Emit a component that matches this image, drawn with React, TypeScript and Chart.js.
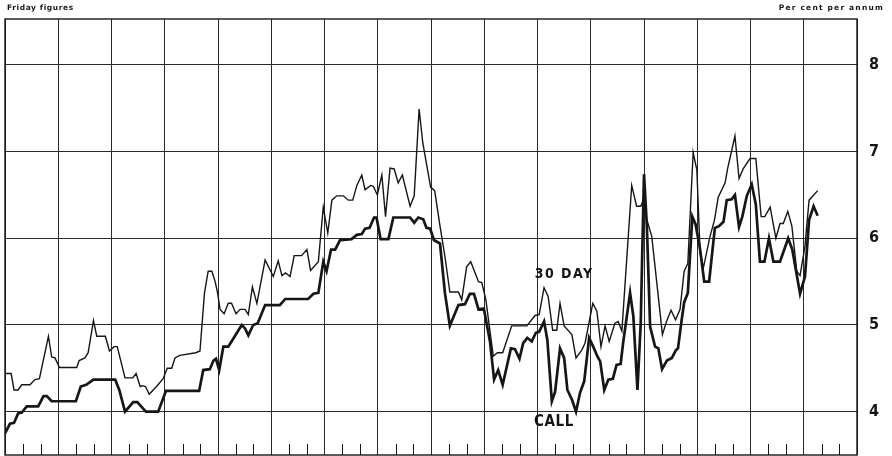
import React, { useEffect, useRef } from "react";
import { Chart, registerables } from "chart.js";

Chart.register(...registerables);

// Weeks (Friday figures) counted from the left edge; 13 weeks per grid column
const thirtyDayWeeks = [
  0, 1.5, 2.2, 3.2, 4.1, 6.1, 7.3, 8.4, 10.6, 11.4, 12.2, 13.3, 17.5, 18.1, 19.5, 20.3, 21.6, 22.4, 24.5, 25.5,
  26.0, 26.6, 27.4, 29.3, 31.2, 32.0, 33.0, 33.6, 34.3, 35.2, 37.0, 38.6, 39.6, 40.7, 41.5, 42.7, 46.6, 47.6,
  48.7, 49.6, 50.5, 51.3, 51.9, 52.5, 53.5, 54.5, 55.3, 56.4, 57.4, 58.6, 59.4, 60.4, 61.5, 63.5, 65.5, 66.7,
  67.6, 68.5, 69.6, 70.6, 72.4, 73.7, 74.6, 76.5, 77.7, 78.8, 79.8, 81.0, 82.6, 83.8, 84.9, 85.9, 87.1, 87.9,
  89.3, 89.9, 90.9, 92.0, 92.9, 94.0, 95.0, 96.0, 97.0, 98.9, 99.9, 101.1, 102.0, 103.9, 104.9, 106.2, 107.4,
  108.6, 110.7, 111.5, 112.7, 113.7, 115.6, 116.4, 117.4, 119.2, 120.2, 121.5, 123.7, 127.4, 129.4, 130.4,
  131.6, 132.6, 133.7, 134.7, 135.5, 136.5, 138.4, 139.4, 140.8, 141.6, 143.5, 144.5, 145.5, 146.5, 147.5,
  148.9, 149.7, 150.6, 153.0, 154.2, 155.2, 155.8, 156.5, 157.9, 160.5, 161.5, 162.6, 163.7, 164.8, 165.8,
  166.7, 168.0, 168.9, 169.7, 170.5, 172.1, 173.2, 174.1, 175.8, 176.4, 178.2, 179.2, 180.2, 181.9, 183.3,
  184.6, 185.5, 186.8, 188.2, 189.2, 190.0, 191.1, 192.1, 193.3, 194.1, 195.3, 196.3, 198.4,
];
const thirtyDayRates = [
  4.44, 4.44, 4.25, 4.25, 4.31, 4.31, 4.37, 4.38, 4.87, 4.63, 4.62, 4.51, 4.51, 4.59, 4.62, 4.68, 5.05, 4.87, 4.87, 4.70,
  4.72, 4.75, 4.75, 4.39, 4.39, 4.44, 4.29, 4.30, 4.29, 4.20, 4.29, 4.38, 4.50, 4.50, 4.62, 4.65, 4.68, 4.70,
  5.37, 5.62, 5.62, 5.50, 5.37, 5.18, 5.13, 5.25, 5.25, 5.13, 5.18, 5.18, 5.12, 5.44, 5.25, 5.75, 5.56, 5.74,
  5.57, 5.60, 5.56, 5.80, 5.80, 5.87, 5.63, 5.73, 6.36, 6.06, 6.44, 6.49, 6.49, 6.44, 6.44, 6.61, 6.73, 6.56,
  6.61, 6.60, 6.50, 6.73, 6.25, 6.81, 6.80, 6.64, 6.73, 6.37, 6.49, 7.49, 7.10, 6.59, 6.55, 6.14, 5.79,
  5.38, 5.38, 5.29, 5.67, 5.73, 5.50, 5.49, 5.29, 4.64, 4.68, 4.68, 4.99, 4.99, 5.11, 5.12,
  5.43, 5.33, 4.94, 4.94, 5.25, 4.99, 4.89, 4.62, 4.71, 4.79, 5.25, 5.16, 4.75, 4.99, 4.81,
  5.02, 5.04, 4.93, 6.61, 6.37, 6.37, 6.44, 6.25, 6.02, 4.89, 5.04, 5.17, 5.06, 5.18, 5.62,
  5.71, 6.99, 6.79, 5.83, 5.66, 6.02, 6.21, 6.47, 6.64, 6.80, 7.18, 6.69, 6.80, 6.92, 6.92,
  6.25, 6.25, 6.36, 6.00, 6.17, 6.17, 6.31, 6.14, 5.62, 5.57, 5.91, 6.44, 6.55,
];

const callWeeks = [
  0, 1.2, 2.2, 3.2, 4.1, 5.3, 8.1, 9.4, 10.2, 11.4, 17.3, 18.5, 19.8, 21.6, 26.9, 27.9, 29.3, 31.3, 32.3, 34.4,
  37.4, 39.3, 47.4, 48.4, 50.0, 50.9, 51.5, 52.3, 53.3, 54.5, 55.3, 57.8, 58.6, 59.4, 60.6, 61.7, 63.5, 67.1,
  68.4, 74.0, 75.3, 76.5, 77.7, 78.5, 79.6, 80.6, 81.8, 84.6, 85.9, 87.1, 87.9, 89.0, 90.1, 90.7, 91.7, 93.6,
  94.8, 98.9, 99.9, 100.9, 102.1, 102.9, 103.8, 104.7, 106.2, 107.4, 108.6, 110.7, 112.3, 113.5, 114.5, 115.6,
  116.9, 118.4, 119.4, 120.4, 121.5, 123.5, 124.5, 125.6, 126.5, 127.5, 128.6, 129.6, 130.4, 131.6, 132.4,
  133.5, 134.3, 135.5, 136.5, 137.3, 138.4, 139.4, 140.4, 141.4, 142.6, 143.6, 144.6, 145.3, 146.3, 147.3,
  148.4, 149.3, 150.3, 150.9, 152.6, 153.4, 154.4, 155.2, 156.0, 156.7, 157.5, 158.7, 159.5, 160.4, 161.6,
  162.8, 163.8, 164.3, 165.2, 165.8, 166.7, 167.8, 168.6, 169.7, 170.7, 171.9, 173.3, 174.3, 175.4, 176.2,
  177.4, 178.2, 179.2, 180.0, 181.1, 182.3, 183.3, 184.3, 185.4, 186.5, 187.6, 189.2, 191.2, 192.2, 194.1,
  195.3, 196.3, 197.4, 198.4,
];
const callRates = [
  3.75, 3.86, 3.87, 3.98, 3.99, 4.06, 4.06, 4.18, 4.18, 4.12, 4.12, 4.29, 4.31, 4.37, 4.37, 4.25, 4.00, 4.11, 4.11, 4.00,
  4.00, 4.24, 4.24, 4.48, 4.49, 4.59, 4.61, 4.48, 4.75, 4.75, 4.81, 5.00, 4.96, 4.88, 5.00, 5.02, 5.23, 5.23,
  5.30, 5.30, 5.36, 5.37, 5.73, 5.62, 5.87, 5.87, 5.98, 5.99, 6.04, 6.05, 6.11, 6.12, 6.24, 6.24, 5.99, 5.99,
  6.24, 6.24, 6.18, 6.24, 6.22, 6.12, 6.11, 5.98, 5.94, 5.37, 4.99, 5.23, 5.24, 5.36, 5.36, 5.18,
  5.19, 4.81, 4.37, 4.48, 4.31, 4.73, 4.72, 4.61, 4.79, 4.85, 4.81, 4.91, 4.92, 5.04, 4.83,
  4.12, 4.23, 4.73, 4.62, 4.25, 4.14, 4.00, 4.22, 4.35, 4.85, 4.75, 4.64, 4.58, 4.25, 4.37,
  4.38, 4.54, 4.55, 4.79, 5.37, 5.10, 4.25, 5.02, 6.74, 6.14, 4.98, 4.75, 4.73, 4.49, 4.59,
  4.62, 4.71, 4.73, 5.06, 5.26, 5.37, 6.25, 6.16, 5.87, 5.50, 5.50, 6.12, 6.14, 6.19, 6.44,
  6.45, 6.50, 6.13, 6.25, 6.49, 6.62, 6.39, 5.73, 5.73, 6.00, 5.73, 5.73, 6.00, 5.87, 5.36,
  5.56, 6.21, 6.37, 6.26,
];

const yTickValues = [4, 5, 6, 7, 8];
const weeksPerColumn = 13;
const totalWeeks = 208;
const thirtyDayLabel = "30 DAY";
const callLabel = "CALL";
const leftNote = "Friday figures";
const rightNote = "Per cent per annum";

const INK = "#161616";
const NARROW = "'Liberation Sans Narrow', 'DejaVu Sans Condensed', 'Roboto', sans-serif";

export default function App() {
  const canvasRef = useRef<HTMLCanvasElement | null>(null);

  useEffect(() => {
    const canvas = canvasRef.current;
    if (!canvas) return;

    const decor = {
      id: "decor",
      beforeDatasetsDraw(chart: any) {
        const { ctx, chartArea, scales } = chart;
        const xs = scales.x;
        ctx.save();
        ctx.strokeStyle = INK;
        ctx.lineWidth = 1;
        // monthly ticks rising from the bottom border
        for (let k = 0; k < totalWeeks / weeksPerColumn; k++) {
          for (let j = 1; j <= 2; j++) {
            const px = Math.round(xs.getPixelForValue(k * weeksPerColumn + (j * weeksPerColumn) / 3)) + 0.5;
            ctx.beginPath();
            ctx.moveTo(px, chartArea.bottom);
            ctx.lineTo(px, chartArea.bottom - 11);
            ctx.stroke();
          }
        }
        // frame
        ctx.lineWidth = 1.4;
        ctx.strokeRect(chartArea.left, chartArea.top, chartArea.right - chartArea.left, chartArea.bottom - chartArea.top);
        ctx.restore();
      },
      afterDraw(chart: any) {
        const { ctx, scales } = chart;
        const xs = scales.x;
        const ys = scales.y;
        ctx.save();
        ctx.fillStyle = INK;
        // header notes
        ctx.font = "bold 7.5px 'DejaVu Sans', sans-serif";
        (ctx as any).letterSpacing = "0.6px";
        ctx.textBaseline = "middle";
        ctx.textAlign = "left";
        ctx.fillText(leftNote, 7, 8);
        (ctx as any).letterSpacing = "1.2px";
        ctx.textAlign = "right";
        ctx.fillText(rightNote, 884, 8);
        // series labels
        ctx.textAlign = "center";
        ctx.font = `bold 14px ${NARROW}`;
        (ctx as any).letterSpacing = "1.5px";
        ctx.fillText(thirtyDayLabel, xs.getPixelForValue(136.5), ys.getPixelForValue(5.58));
        ctx.font = `bold 15px ${NARROW}`;
        (ctx as any).letterSpacing = "0.6px";
        ctx.fillText(callLabel, xs.getPixelForValue(134.0), ys.getPixelForValue(3.88));
        ctx.restore();
      },
    };

    const chart = new Chart(canvas, {
      type: "line",
      data: {
        datasets: [
          {
            label: "30 day",
            data: thirtyDayWeeks.map((w, i) => ({ x: w, y: thirtyDayRates[i] })),
            borderColor: INK,
            borderWidth: 1.4,
            pointRadius: 0,
            tension: 0,
            fill: false,
          },
          {
            label: "Call",
            data: callWeeks.map((w, i) => ({ x: w, y: callRates[i] })),
            borderColor: INK,
            borderWidth: 2.7,
            pointRadius: 0,
            tension: 0,
            fill: false,
          },
        ],
      },
      options: {
        animation: false,
        responsive: true,
        maintainAspectRatio: false,
        layout: { padding: { left: 5, top: 19, bottom: 1, right: 0 } },
        plugins: { legend: { display: false }, tooltip: { enabled: false }, title: { display: false } },
        scales: {
          x: {
            type: "linear",
            min: 0,
            max: totalWeeks,
            afterBuildTicks: (scale: any) => {
              const t = [];
              for (let v = 0; v <= totalWeeks; v += weeksPerColumn) t.push({ value: v });
              scale.ticks = t;
            },
            afterFit: (scale: any) => {
              scale.height = 0;
              scale.paddingLeft = 0;
              scale.paddingRight = 0;
            },
            ticks: { display: false, autoSkip: false },
            grid: { color: "#2a2a2a", lineWidth: 1, drawTicks: false },
            border: { display: false },
          },
          y: {
            type: "linear",
            position: "right",
            min: 3.5,
            max: 8.53,
            afterBuildTicks: (scale: any) => {
              scale.ticks = yTickValues.map((v) => ({ value: v }));
            },
            afterFit: (scale: any) => {
              scale.width = 35;
              scale.paddingTop = 0;
              scale.paddingBottom = 0;
            },
            ticks: {
              autoSkip: false,
              padding: 12,
              color: INK,
              font: { family: NARROW, size: 16, weight: "bold" },
              callback: (v: any) => String(v),
            },
            grid: { color: "#2a2a2a", lineWidth: 1, drawTicks: false },
            border: { display: false },
          },
        },
      },
      plugins: [decor],
    });

    return () => chart.destroy();
  }, []);

  return (
    <div style={{ position: "fixed", left: 0, top: 0, width: 892, height: 456, background: "#fff" }}>
      <canvas ref={canvasRef} />
    </div>
  );
}
